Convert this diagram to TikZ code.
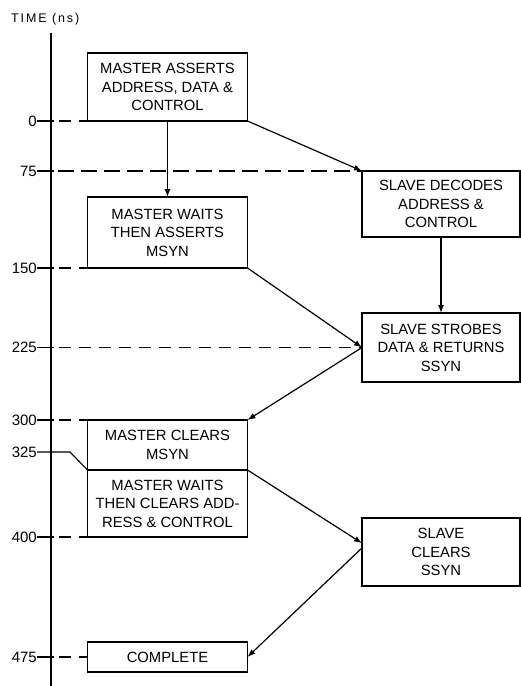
\documentclass[tikz,border=0pt]{standalone}
\usepackage{fontspec}
\setmainfont{Liberation Sans}
\usetikzlibrary{arrows.meta,calc}
\begin{document}
\begin{tikzpicture}[x=1pt,y=-1pt,
  box/.style={draw, line width=1.6pt, rectangle, inner sep=0pt, outer sep=0pt, align=center,
    font=\fontsize{14.8}{18.5}\selectfont},
  lbox/.style={box, minimum width=160pt},
  rbox/.style={box, minimum width=158pt},
  arr/.style={line width=1.2pt, -{Latex[length=8pt,width=6pt]}},
  dashline/.style={line width=1.1pt, dash pattern=on 12pt off 8pt, dash phase=12pt},
  longdash/.style={line width=1.1pt, dash pattern=on 16pt off 7pt, dash phase=16pt},
  tickmark/.style={line width=1.1pt},
  ticklabel/.style={anchor=east, inner sep=0pt, font=\fontsize{15}{17}\selectfont}
]
\useasboundingbox (0,0) rectangle (521,686);

% title and axis
\node[anchor=west, inner sep=0pt, font=\fontsize{12.5}{14}\selectfont\addfontfeatures{LetterSpace=15}] (title) at (11,19) {TIME (ns)};
\coordinate (axtop) at (51,33);
\coordinate (axbot) at (51,686);
\draw[line width=1.8pt] (axtop) -- (axbot);

% boxes
\node[lbox, minimum height=68pt] (b1) at (167.5,87) {MASTER ASSERTS\\ADDRESS, DATA \&\\CONTROL};
\node[lbox, minimum height=71pt] (b2) at (167.5,232.5) {MASTER WAITS\\THEN ASSERTS\\MSYN};
\node[rbox, minimum height=66pt] (b3) at (441,204) {SLAVE DECODES\\ADDRESS \&\\CONTROL};
\node[rbox, minimum height=69pt] (b4) at (441,347.5) {SLAVE STROBES\\DATA \& RETURNS\\SSYN};
\node[lbox, minimum height=50pt] (b5) at (167.5,445) {MASTER CLEARS\\MSYN};
\node[lbox, minimum height=67pt] (b6) at (167.5,503.5) {MASTER WAITS\\THEN CLEARS ADD-\\RESS \& CONTROL};
\node[rbox, minimum height=68pt] (b7) at (441,552) {SLAVE\\CLEARS\\SSYN};
\node[lbox, minimum height=30pt] (b8) at (167.5,657) {COMPLETE};

% ticks
\foreach \v/\y in {0/121, 75/171, 150/268, 225/347.5, 300/420, 325/452, 400/537, 475/657} {
  \coordinate (t\v) at (51,\y);
  \node[ticklabel] (l\v) at (37,\y) {\v};
}
\foreach \v in {0,75,150,225,300,400,475} {
  \draw[tickmark] (l\v.east) -- ($(t\v)+(3,0)$);
}
\draw[tickmark] (l325.east) -- ($(t325)+(19,0)$) -- (b5.south west);

% dashed time lines
\draw[dashline] (t0) -- (b1.south west);
\draw[longdash] (t75) -- (b3.north west);
\draw[dashline] (t150) -- (b2.south west);
\draw[dashline] (t225) -- (b4.west);
\draw[dashline] (t300) -- (b5.north west);
\draw[dashline] (t400) -- (b6.south west);
\draw[dashline] (t475) -- (b8.west);

% arrows
\coordinate (b7in) at ($(b7.north west)!0.37!(b7.south west)$);
\coordinate (b7out) at ($(b7.north west)!0.44!(b7.south west)$);
\draw[arr] (b1.south) -- (b2.north);
\draw[arr] (b1.south east) -- (b3.north west);
\draw[arr] (b3.south) -- (b4.north);
\draw[arr] (b2.south east) -- (b4.west);
\draw[arr] (b4.west) -- (b5.north east);
\draw[arr] (b5.south east) -- (b7in);
\draw[arr] (b7out) -- (b8.east);
\end{tikzpicture}
\end{document}
